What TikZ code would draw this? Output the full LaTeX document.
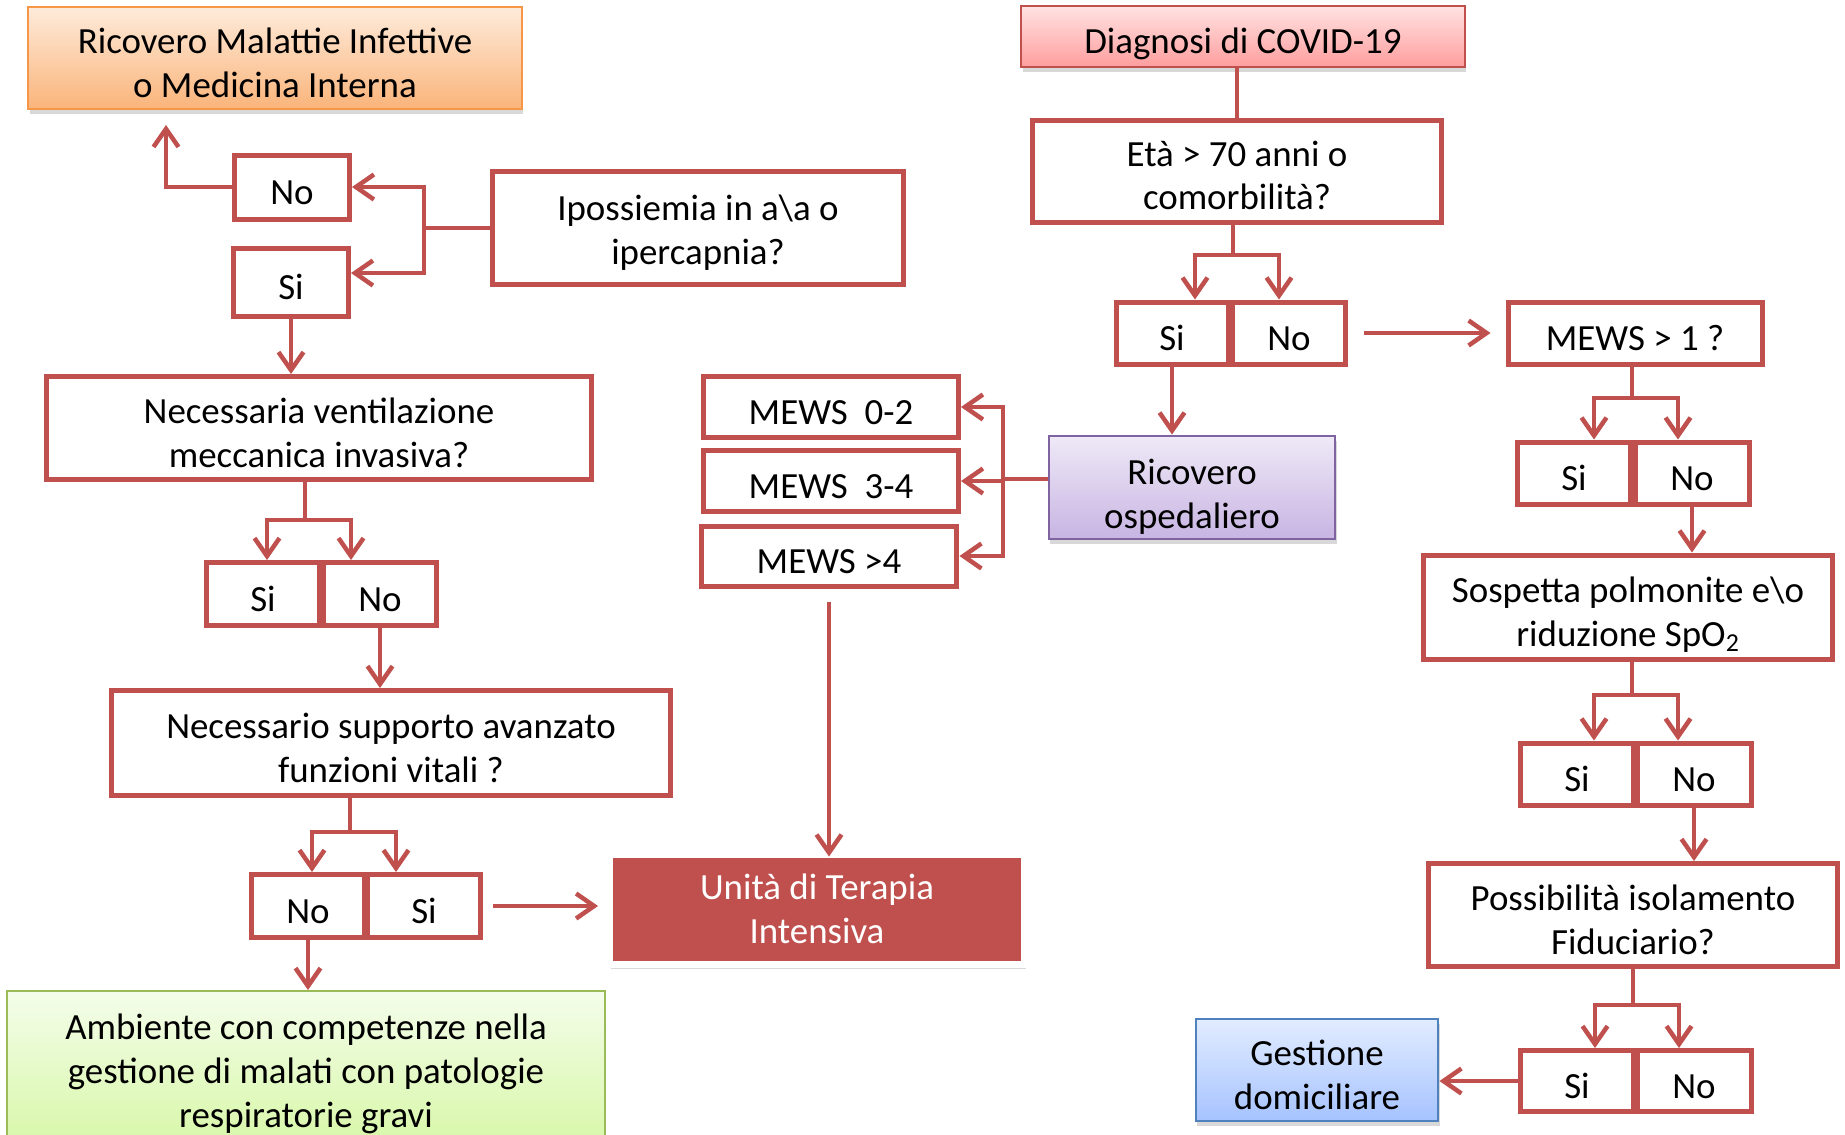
\documentclass[tikz,border=0pt]{standalone}
\usepackage{fontspec}
\setmainfont{Carlito}
\usetikzlibrary{arrows.meta, shadows, positioning}
\definecolor{flowred}{HTML}{C0504D}
\definecolor{orangeedge}{HTML}{F79646}
\definecolor{orangetop}{HTML}{FEEBDB}
\definecolor{orangebot}{HTML}{FAB47A}
\definecolor{pinktop}{HTML}{FFE3E3}
\definecolor{pinkbot}{HTML}{FF9E9E}
\definecolor{purpleedge}{HTML}{8064A2}
\definecolor{purpletop}{HTML}{EFE9F7}
\definecolor{purplebot}{HTML}{C8B5E3}
\definecolor{greenedge}{HTML}{9BBB59}
\definecolor{greentop}{HTML}{F4FDEA}
\definecolor{greenbot}{HTML}{D7F7A7}
\definecolor{blueedge}{HTML}{4F81BD}
\definecolor{bluetop}{HTML}{E2ECFF}
\definecolor{bluebot}{HTML}{A6C3FF}

\begin{document}
\begin{tikzpicture}[x=0.02cm, y=-0.02cm, font=\fontsize{21}{25}\selectfont,
    >={Straight Barb[length=0.36cm,width=0.5cm]},
    lowtext/.style={execute at begin node={\rule{0pt}{#1}}},
    lowtext/.default=20pt,
    box/.style={lowtext, draw=flowred, line width=0.1cm, fill=white, align=center, inner sep=0pt},
    twoline/.style={lowtext=45pt},
    link/.style={draw=flowred, line width=0.09cm},
    shade/.style={drop shadow={opacity=0.3, shadow xshift=0.03cm, shadow yshift=-0.1cm}},
    colbox/.style={shade, line width=0.04cm, align=center, inner sep=0pt},
    orangebox/.style={colbox, draw=orangeedge, top color=orangetop, bottom color=orangebot},
    pinkbox/.style={colbox, draw=flowred, top color=pinktop, bottom color=pinkbot},
    purplebox/.style={colbox, draw=purpleedge, top color=purpletop, bottom color=purplebot},
    greenbox/.style={colbox, draw=greenedge, top color=greentop, bottom color=greenbot},
    bluebox/.style={colbox, draw=blueedge, top color=bluetop, bottom color=bluebot},
    icubox/.style={shade, fill=flowred, draw=white, line width=0.14cm, text=white, align=center, inner sep=0pt}]

  \path[use as bounding box, fill=white] (0,0) rectangle (1845,1134);

  % left column
  \node[orangebox, twoline, minimum width=9.88cm, minimum height=2.04cm] (ricMI) at (275,58) {Ricovero Malattie Infettive\\o Medicina Interna};
  \node[box, minimum width=2.3cm, minimum height=1.28cm] (noA) at (292,187) {No};
  \node[box, minimum width=2.3cm, minimum height=1.36cm] (siA) at (291,282) {Si};
  \node[box, twoline, minimum width=8.22cm, minimum height=2.26cm] (ipo) at (698,228) {Ipossiemia in a\textbackslash a o\\ipercapnia?};
  \node[box, twoline, minimum width=10.9cm, minimum height=2.06cm] (nec) at (319,428) {Necessaria ventilazione\\meccanica invasiva?};
  \node[box, minimum width=2.28cm, minimum height=1.26cm] (siB) at (263,594) {Si};
  \node[box, minimum width=2.28cm, minimum height=1.26cm] (noB) at (380,594) {No};
  \node[box, twoline, minimum width=11.18cm, minimum height=2.1cm] (sup) at (391,743) {Necessario supporto avanzato\\funzioni vitali ?};
  \node[box, minimum width=2.28cm, minimum height=1.26cm] (noC) at (308,906) {No};
  \node[box, minimum width=2.28cm, minimum height=1.26cm] (siC) at (424,906) {Si};
  \node[greenbox, lowtext=69pt, minimum width=11.96cm, minimum height=3.16cm] (amb) at (306,1070) {Ambiente con competenze nella\\gestione di malati con patologie\\respiratorie gravi};

  % middle
  \node[box, minimum width=5.1cm, minimum height=1.22cm] (m02) at (831,407) {MEWS~~0-2};
  \node[box, minimum width=5.1cm, minimum height=1.22cm] (m34) at (831,481) {MEWS~~3-4};
  \node[box, minimum width=5.12cm, minimum height=1.2cm] (m4) at (829,556) {MEWS >4};
  \node[icubox, minimum width=8.3cm, minimum height=2.2cm] (uti) at (817,909) {Unità di Terapia\\Intensiva};
  \node[purplebox, lowtext=50.5pt, minimum width=5.74cm, minimum height=2.06cm] (ric) at (1192,487) {Ricovero\\ospedaliero};

  % right column
  \node[pinkbox, lowtext=23pt, minimum width=8.88cm, minimum height=1.22cm] (diag) at (1243,36) {Diagnosi di COVID-19};
  \node[box, lowtext=44.5pt, minimum width=8.18cm, minimum height=2.04cm] (eta) at (1237,171) {Età > 70 anni o\\comorbilità?};
  \node[box, minimum width=2.24cm, minimum height=1.24cm] (siD) at (1172,333) {Si};
  \node[box, minimum width=2.26cm, minimum height=1.24cm] (noD) at (1289,333) {No};
  \node[box, lowtext=16.5pt, minimum width=5.08cm, minimum height=1.24cm] (mews1) at (1635,333) {MEWS > 1 ?};
  \node[box, minimum width=2.26cm, minimum height=1.24cm] (siE) at (1574,473) {Si};
  \node[box, minimum width=2.28cm, minimum height=1.24cm] (noE) at (1692,473) {No};
  \node[box, lowtext=48pt, minimum width=8.18cm, minimum height=2.08cm] (sosp) at (1628,607) {Sospetta polmonite e\textbackslash o\\riduzione SpO\textsubscript{2}};
  \node[box, minimum width=2.26cm, minimum height=1.24cm] (siF) at (1577,774) {Si};
  \node[box, minimum width=2.28cm, minimum height=1.24cm] (noF) at (1694,774) {No};
  \node[box, twoline, minimum width=8.18cm, minimum height=2.06cm] (poss) at (1633,915) {Possibilità isolamento\\Fiduciario?};
  \node[box, minimum width=2.26cm, minimum height=1.22cm] (siG) at (1577,1081) {Si};
  \node[box, minimum width=2.28cm, minimum height=1.22cm] (noG) at (1694,1081) {No};
  \node[bluebox, lowtext=45.5pt, minimum width=4.86cm, minimum height=2.04cm] (gest) at (1317,1070) {Gestione\\domiciliare};

  % ipossiemia branches
  \coordinate (ipoJ) at (424,228);
  \coordinate (ricUp) at (166,125);
  \draw[link] (ipo) -- (ipoJ);
  \draw[link,->] (ipoJ) |- (noA);
  \draw[link,->] (ipoJ) |- ([yshift=0.18cm]siA.east);
  \draw[link,->] (noA) -| (ricUp);
  \draw[link,->] (siA) -- (siA |- nec.north);

  % yes/no forks
  \foreach \src/\jx/\jy/\lt/\rt in {nec/305/520/siB/noB, sup/350/832/noC/siC, eta/1233/255/siD/noD,
      mews1/1632/398/siE/noE, sosp/1632/695/siF/noF, poss/1633/1005/siG/noG} {
    \coordinate (J) at (\jx,\jy);
    \draw[link] (J |- \src.south) -- (J);
    \draw[link,->] (J) -- ++(-38,0) coordinate (L) -- (L |- \lt.north);
    \draw[link,->] (J) -- ++(46,0) coordinate (R) -- (R |- \rt.north);
  }

  \draw[link,->] (noB) -- (noB |- sup.north);
  \draw[link,->,shorten <=0.2cm,shorten >=0.16cm] (siC) -- (siC -| uti.west);
  \draw[link,->] (noC) -- (noC |- amb.north);

  % ricovero ospedaliero
  \draw[link] (eta.north |- diag.south) -- (eta.north);
  \draw[link,->] (siD) -- (siD |- ric.north);
  \draw[link,->,shorten <=0.32cm,shorten >=0.3cm] (noD) -- (mews1);
  \coordinate (ricJ) at (1003,479);
  \draw[link] (ricJ -| ric.west) -- (ricJ);
  \foreach \m in {m02,m34,m4}
    \draw[link,->] (ricJ) |- (\m);
  \draw[link,->,shorten <=0.26cm,shorten >=-0.12cm] (m4) -- (m4 |- uti.north);

  \draw[link,->] (noE) -- (noE |- sosp.north);
  \draw[link,->] (noF) -- (noF |- poss.north);
  \draw[link,->] (siG) -- (siG -| gest.east);
\end{tikzpicture}
\end{document}
